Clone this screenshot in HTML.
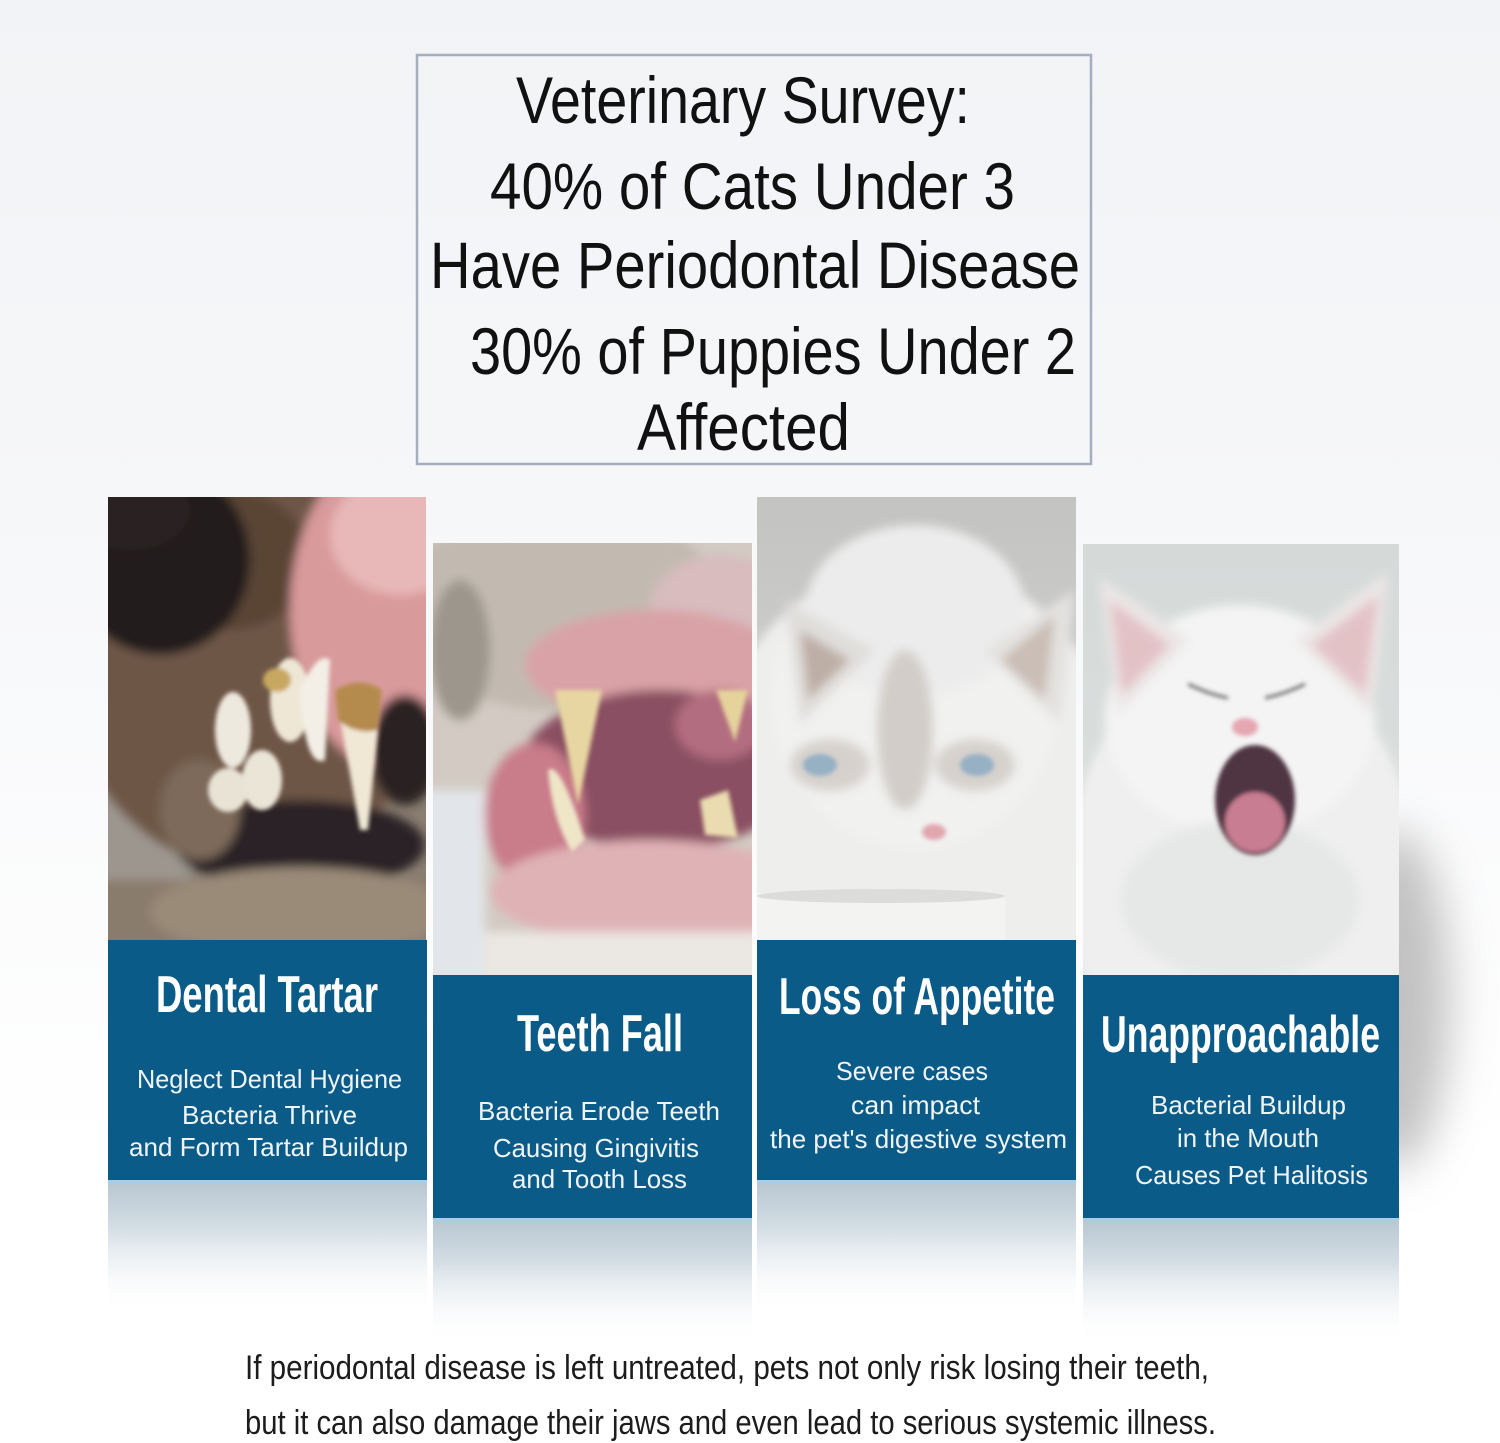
<!DOCTYPE html>
<html><head><meta charset="utf-8">
<style>
html,body{margin:0;padding:0;background:#fff;}
svg{display:block;}
.bx{font-family:"Liberation Sans",sans-serif;font-size:66px;fill:#111;}
.tt{font-family:"Liberation Sans",sans-serif;font-size:52px;font-weight:bold;fill:#fff;}
.st{font-family:"Liberation Sans",sans-serif;font-size:26px;fill:#eef4f8;}
.bt{font-family:"Liberation Sans",sans-serif;font-size:34px;fill:#1c1c1c;}
</style></head>
<body>
<svg width="1500" height="1443" viewBox="0 0 1500 1443" xmlns="http://www.w3.org/2000/svg">
<defs>
<linearGradient id="bg" x1="0" y1="0" x2="0" y2="1">
<stop offset="0" stop-color="#f1f3f6"/><stop offset="0.35" stop-color="#f6f7f9"/><stop offset="0.8" stop-color="#ffffff"/><stop offset="1" stop-color="#ffffff"/>
</linearGradient>
<linearGradient id="rsh" x1="0" y1="0" x2="1" y2="0">
<stop offset="0" stop-color="#b8b8b8" stop-opacity="0.85"/><stop offset="1" stop-color="#ffffff" stop-opacity="0"/>
</linearGradient>
<linearGradient id="refl" x1="0" y1="0" x2="0" y2="1">
<stop offset="0" stop-color="#b7c6d1"/><stop offset="0.35" stop-color="#d3dde4"/><stop offset="1" stop-color="#ffffff" stop-opacity="0"/>
</linearGradient>
<filter id="bl" x="-5%" y="-5%" width="110%" height="110%"><feGaussianBlur stdDeviation="5"/></filter>
<filter id="bl2"><feGaussianBlur stdDeviation="2"/></filter>
<filter id="bl3" x="-50%" y="-50%" width="200%" height="200%"><feGaussianBlur stdDeviation="22"/></filter>
<clipPath id="c1"><rect x="108" y="497" width="318" height="443"/></clipPath>
<clipPath id="c2"><rect x="433" y="543" width="319" height="432"/></clipPath>
<clipPath id="c3"><rect x="757" y="497" width="319" height="443"/></clipPath>
<clipPath id="c4"><rect x="1083" y="544" width="316" height="431"/></clipPath>
<clipPath id="cr"><rect x="1399" y="0" width="101" height="1443"/></clipPath>
<linearGradient id="g3" x1="0" y1="0" x2="0" y2="1"><stop offset="0" stop-color="#c3c3c1"/><stop offset="1" stop-color="#d9d9d7"/></linearGradient>
<linearGradient id="g4" x1="0" y1="0" x2="0" y2="1"><stop offset="0" stop-color="#d5dad9"/><stop offset="1" stop-color="#dde1e0"/></linearGradient>
</defs>

<rect x="0" y="0" width="1500" height="1443" fill="url(#bg)"/>
<g clip-path="url(#cr)">
<ellipse cx="1395" cy="1000" rx="55" ry="170" fill="#b4b4b4" filter="url(#bl3)" opacity="0.8"/>
</g>

<!-- Survey box -->
<rect x="417" y="55" width="674" height="409" fill="none" stroke="#a3aebe" stroke-width="2.5"/>
<text class="bx" x="516" y="123" textLength="454" lengthAdjust="spacingAndGlyphs">Veterinary Survey:</text>
<text class="bx" x="490" y="209" textLength="525" lengthAdjust="spacingAndGlyphs">40% of Cats Under 3</text>
<text class="bx" x="430" y="288" textLength="650" lengthAdjust="spacingAndGlyphs">Have Periodontal Disease</text>
<text class="bx" x="470" y="374" textLength="606" lengthAdjust="spacingAndGlyphs">30% of Puppies Under 2</text>
<text class="bx" x="637" y="450" textLength="213" lengthAdjust="spacingAndGlyphs">Affected</text>

<!-- Reflections -->
<rect x="108" y="1180" width="319" height="135" fill="url(#refl)"/>
<rect x="433" y="1218" width="319" height="125" fill="url(#refl)"/>
<rect x="757" y="1180" width="319" height="135" fill="url(#refl)"/>
<rect x="1083" y="1218" width="316" height="125" fill="url(#refl)"/>
<rect x="108" y="1180" width="319" height="3" fill="#a9cde2"/>
<rect x="433" y="1218" width="319" height="3" fill="#a9cde2"/>
<rect x="757" y="1180" width="319" height="3" fill="#a9cde2"/>
<rect x="1083" y="1218" width="316" height="3" fill="#a9cde2"/>

<!-- Photo 1: dog -->
<g clip-path="url(#c1)">
<rect x="108" y="497" width="318" height="443" fill="#8a7e72"/>
<g filter="url(#bl)">
<rect x="100" y="660" width="90" height="290" fill="#9d968e"/>
<ellipse cx="250" cy="650" rx="190" ry="220" fill="#6e5646"/>
<ellipse cx="230" cy="560" rx="80" ry="70" fill="#5a4536"/>
<ellipse cx="390" cy="610" rx="100" ry="160" fill="#d99a9c"/>
<ellipse cx="400" cy="535" rx="70" ry="60" fill="#e8b8b8"/>
<ellipse cx="160" cy="560" rx="90" ry="95" fill="#221b1a"/>
<ellipse cx="130" cy="510" rx="60" ry="40" fill="#2c2322"/>
<ellipse cx="300" cy="845" rx="125" ry="45" fill="#2a2325"/>
<ellipse cx="405" cy="750" rx="35" ry="55" fill="#2c2224"/>
<rect x="100" y="880" width="340" height="70" fill="#8a7b6c"/>
<ellipse cx="300" cy="912" rx="150" ry="45" fill="#9a8a78"/>
<ellipse cx="200" cy="810" rx="40" ry="50" fill="#7d6b5a"/>
</g>
<g filter="url(#bl2)">
<ellipse cx="233" cy="730" rx="18" ry="38" fill="#eee9de"/>
<ellipse cx="262" cy="780" rx="20" ry="30" fill="#ebe5d8"/>
<ellipse cx="290" cy="700" rx="20" ry="42" fill="#efe7d5"/>
<ellipse cx="228" cy="790" rx="20" ry="22" fill="#e9e3d6"/>
<path d="M300 690 Q318 650 330 660 L325 760 Q305 770 300 690Z" fill="#f3efe6"/>
<path d="M335 690 Q360 675 382 690 L368 830 L360 830 Z" fill="#f0e8d4"/>
<path d="M335 690 Q360 675 382 690 L378 730 Q355 735 338 720 Z" fill="#b58a4e"/>
<ellipse cx="277" cy="680" rx="14" ry="12" fill="#c8a860"/>
</g>
</g>

<!-- Photo 2: cat teeth -->
<g clip-path="url(#c2)">
<rect x="433" y="543" width="319" height="432" fill="#d3cbc3"/>
<g filter="url(#bl)">
<ellipse cx="560" cy="610" rx="170" ry="100" fill="#c2bab0"/>
<ellipse cx="720" cy="610" rx="70" ry="55" fill="#d8bcbe"/>
<ellipse cx="655" cy="665" rx="130" ry="55" fill="#d9a2a6"/>
<ellipse cx="660" cy="770" rx="140" ry="80" fill="#8a5062"/>
<ellipse cx="720" cy="725" rx="45" ry="35" fill="#b36d80"/>
<ellipse cx="535" cy="815" rx="50" ry="72" fill="#c97c89"/>
<ellipse cx="650" cy="892" rx="160" ry="52" fill="#dfb2b6"/>
<rect x="420" y="932" width="350" height="60" fill="#ebe7e2"/>
<rect x="420" y="790" width="65" height="200" fill="#e2e5ea"/>
<ellipse cx="460" cy="650" rx="30" ry="70" fill="#9c968c"/>
</g>
<g filter="url(#bl2)">
<path d="M555 690 L602 690 L578 805 Z" fill="#e8d6a2"/>
<path d="M548 770 Q560 760 585 840 L572 852 Q552 820 548 770Z" fill="#efe6c8"/>
<path d="M716 690 L748 690 L735 742 Z" fill="#e6d39c"/>
<path d="M700 800 L728 790 L738 838 L705 835 Z" fill="#eadcb0"/>
</g>
</g>

<!-- Photo 3: white cat with bowl -->
<g clip-path="url(#c3)">
<rect x="757" y="497" width="319" height="443" fill="url(#g3)"/>
<g filter="url(#bl)">
<ellipse cx="915" cy="820" rx="215" ry="260" fill="#eeeeed"/>
<ellipse cx="915" cy="700" rx="145" ry="150" fill="#f1f1f0"/>
<ellipse cx="915" cy="610" rx="110" ry="85" fill="#ececec"/>
<path d="M785 600 L875 650 L800 725 Z" fill="#e0dedb"/>
<path d="M1075 590 L985 650 L1060 725 Z" fill="#e4e2e0"/>
<path d="M800 630 L850 660 L808 700 Z" fill="#bdaea6"/>
<path d="M1055 615 L1000 660 L1045 700 Z" fill="#cabeb6"/>
<ellipse cx="905" cy="730" rx="28" ry="80" fill="#d2cdc8"/>
<ellipse cx="830" cy="765" rx="40" ry="26" fill="#d6d1cd"/>
<ellipse cx="975" cy="765" rx="40" ry="26" fill="#d6d1cd"/>
</g>
<g filter="url(#bl2)">
<ellipse cx="820" cy="765" rx="17" ry="11" fill="#96b0c4"/>
<ellipse cx="977" cy="765" rx="17" ry="11" fill="#96b0c4"/>
<ellipse cx="934" cy="832" rx="12" ry="8" fill="#e0a6ae"/>
</g>
<rect x="757" y="893" width="248" height="50" fill="#f3f3f1"/>
<ellipse cx="881" cy="896" rx="124" ry="7" fill="#dcdcda"/>
</g>

<!-- Photo 4: yawning cat -->
<g clip-path="url(#c4)">
<rect x="1083" y="544" width="316" height="431" fill="url(#g4)"/>
<g filter="url(#bl)">
<ellipse cx="1242" cy="880" rx="175" ry="230" fill="#efefef"/>
<ellipse cx="1240" cy="720" rx="135" ry="115" fill="#f4f4f4"/>
<path d="M1100 578 L1190 640 L1118 715 Z" fill="#ece6e6"/>
<path d="M1388 572 L1295 640 L1372 715 Z" fill="#ece6e6"/>
<path d="M1110 600 L1170 645 L1122 695 Z" fill="#e3c2c6"/>
<path d="M1378 595 L1312 645 L1365 695 Z" fill="#e3c2c6"/>
<ellipse cx="1240" cy="900" rx="120" ry="80" fill="#e6e7e7"/>
</g>
<g filter="url(#bl2)">
<path d="M1188 684 Q1208 694 1228 698" stroke="#6e6e6e" stroke-width="3" fill="none"/>
<path d="M1305 684 Q1285 694 1265 698" stroke="#6e6e6e" stroke-width="3" fill="none"/>
<ellipse cx="1245" cy="727" rx="13" ry="9" fill="#e6a6b2"/>
<ellipse cx="1255" cy="800" rx="40" ry="55" fill="#4f3442"/>
<ellipse cx="1255" cy="822" rx="30" ry="30" fill="#c87d92"/>
</g>
</g>

<!-- Blue panels -->
<rect x="108" y="940" width="319" height="240" fill="#0b5b88"/>
<rect x="433" y="975" width="319" height="243" fill="#0b5b88"/>
<rect x="757" y="940" width="319" height="240" fill="#0b5b88"/>
<rect x="1083" y="975" width="316" height="243" fill="#0b5b88"/>

<text class="tt" x="156" y="1012" textLength="222" lengthAdjust="spacingAndGlyphs">Dental Tartar</text>
<text class="st" x="137" y="1088" textLength="265" lengthAdjust="spacingAndGlyphs">Neglect Dental Hygiene</text>
<text class="st" x="182" y="1124" textLength="175" lengthAdjust="spacingAndGlyphs">Bacteria Thrive</text>
<text class="st" x="129" y="1156" textLength="279" lengthAdjust="spacingAndGlyphs">and Form Tartar Buildup</text>

<text class="tt" x="517" y="1051" textLength="166" lengthAdjust="spacingAndGlyphs">Teeth Fall</text>
<text class="st" x="478" y="1120" textLength="242" lengthAdjust="spacingAndGlyphs">Bacteria Erode Teeth</text>
<text class="st" x="493" y="1157" textLength="206" lengthAdjust="spacingAndGlyphs">Causing Gingivitis</text>
<text class="st" x="512" y="1188" textLength="175" lengthAdjust="spacingAndGlyphs">and Tooth Loss</text>

<text class="tt" x="779" y="1014" textLength="276" lengthAdjust="spacingAndGlyphs">Loss of Appetite</text>
<text class="st" x="836" y="1080" textLength="152" lengthAdjust="spacingAndGlyphs">Severe cases</text>
<text class="st" x="851" y="1114" textLength="129" lengthAdjust="spacingAndGlyphs">can impact</text>
<text class="st" x="770" y="1148" textLength="297" lengthAdjust="spacingAndGlyphs">the pet's digestive system</text>

<text class="tt" x="1101" y="1052" textLength="279" lengthAdjust="spacingAndGlyphs">Unapproachable</text>
<text class="st" x="1151" y="1114" textLength="195" lengthAdjust="spacingAndGlyphs">Bacterial Buildup</text>
<text class="st" x="1177" y="1147" textLength="142" lengthAdjust="spacingAndGlyphs">in the Mouth</text>
<text class="st" x="1135" y="1184" textLength="233" lengthAdjust="spacingAndGlyphs">Causes Pet Halitosis</text>

<!-- Bottom text -->
<text class="bt" x="245" y="1379" textLength="964" lengthAdjust="spacingAndGlyphs">If periodontal disease is left untreated, pets not only risk losing their teeth,</text>
<text class="bt" x="245" y="1434" textLength="971" lengthAdjust="spacingAndGlyphs">but it can also damage their jaws and even lead to serious systemic illness.</text>
</svg>
</body></html>
